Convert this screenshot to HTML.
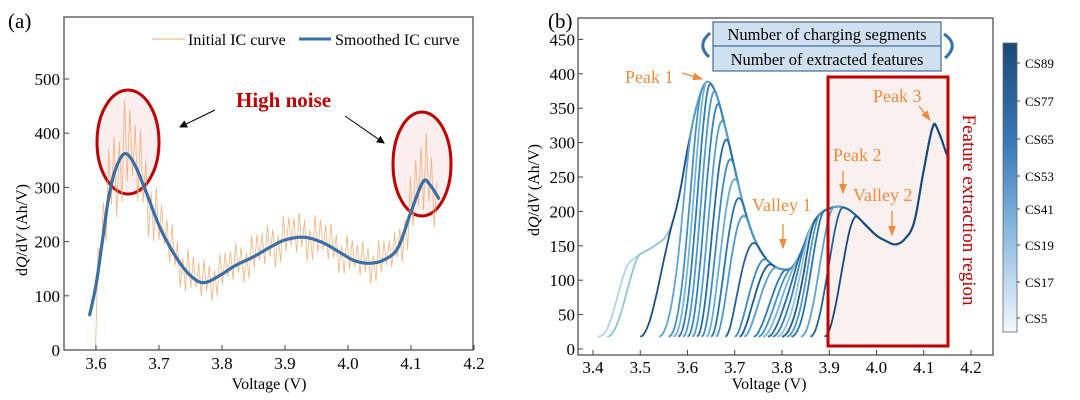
<!DOCTYPE html>
<html><head><meta charset="utf-8">
<style>
body{margin:0;background:#fff;}
svg{display:block;font-family:"Liberation Serif",serif;}
</style></head>
<body>
<svg id="fig" width="1080" height="400" viewBox="0 0 1080 400">
<defs>
<linearGradient id="cb" x1="0" y1="0" x2="0" y2="1">
<stop offset="0" stop-color="#1b4a78"/><stop offset="0.35" stop-color="#3a7ab8"/><stop offset="0.65" stop-color="#8ab8e0"/><stop offset="1" stop-color="#f4f8fd"/>
</linearGradient>
<marker id="ah" markerWidth="8" markerHeight="8" refX="7" refY="4" orient="auto"><path d="M0,0 L8,4 L0,8 z" fill="#000"/></marker>
<marker id="ao" markerWidth="8" markerHeight="8" refX="7" refY="4" orient="auto"><path d="M0,1 L8,4 L0,7 z" fill="#f08a3c"/></marker>
</defs>
<g id="pa"></g>
<g id="pb"></g>
</svg>
<script>
// ---------- Panel (a) data ----------
const smoothV=[3.59,3.6,3.61,3.62,3.63,3.645,3.66,3.68,3.7,3.72,3.74,3.76,3.775,3.8,3.82,3.85,3.88,3.9,3.93,3.96,3.99,4.01,4.035,4.06,4.08,4.1,4.12,4.13,4.145];
const smoothY=[65,120,200,280,330,362,345,290,230,185,150,128,125,140,155,172,192,203,208,198,178,165,160,168,190,255,312,305,278];
const noiseV=[3.6,3.62,3.64,3.66,3.68,3.7,3.75,3.8,3.9,3.95,4.0,4.05,4.08,4.1,4.12,4.145];
const noiseAmp=[40,90,100,95,80,55,45,40,45,45,40,40,40,70,90,60];
const noisePattern=[1,0.5,0.9,0.3,0.8,0.6,1,0.4,0.7,0.95,0.35,0.85];
const xTicksA=["3.6","3.7","3.8","3.9","4.0","4.1","4.2"];
const yTicksA=[0,100,200,300,400,500];
// ---------- Panel (b) data ----------
const envV=[3.40,3.42,3.44,3.46,3.48,3.50,3.53,3.56,3.58,3.60,3.62,3.64,3.66,3.68,3.70,3.72,3.74,3.76,3.78,3.80,3.82,3.84,3.86,3.88,3.90,3.92,3.94,3.96,3.98,4.00,4.02,4.04,4.06,4.08,4.10,4.12,4.13,4.15];
const envY=[15,60,100,118,128,138,150,170,215,290,355,388,372,322,262,205,163,137,122,116,118,140,175,196,204,207,203,192,178,165,157,152,160,185,260,325,318,280];
const cycleStart=[3.41,3.43,3.50,3.54,3.56,3.57,3.58,3.59,3.60,3.61,3.62,3.63,3.64,3.65,3.66,3.68,3.70,3.71,3.72,3.74,3.75,3.76,3.77,3.78,3.79,3.80,3.81,3.82,3.84,3.86,3.89];
const cycleShade=[0.1,0.2,0.95,0.4,0.55,0.3,0.7,0.5,0.65,0.45,0.8,0.6,0.35,0.75,0.5,0.85,0.6,0.9,0.45,0.7,0.55,0.3,0.8,0.65,0.2,0.9,0.5,0.75,0.4,0.85,1.0];
const cbLabels=["CS89","CS77","CS65","CS53","CS41","CS19","CS17","CS5"];
const cbLabelY=[63,101,139,176,209,245,282,318];
const xTicksB=["3.4","3.5","3.6","3.7","3.8","3.9","4.0","4.1","4.2"];
const yTicksB=[0,50,100,150,200,250,300,350,400,450];

const NS="http://www.w3.org/2000/svg";
function mk(parent,tag,attrs,text){const e=document.createElementNS(NS,tag);for(const k in attrs)e.setAttribute(k,attrs[k]);if(text!==undefined)e.textContent=text;parent.appendChild(e);return e;}
function interp(xs,ys,v){
  const n=xs.length;
  if(v<=xs[0])return ys[0];if(v>=xs[n-1])return ys[n-1];
  let i=1;while(v>xs[i])i++;
  const x0=xs[i-1],x1=xs[i],h=x1-x0,t=(v-x0)/h;
  const sl=k=>{const a=Math.max(0,k-1),b=Math.min(n-1,k+1);return (ys[b]-ys[a])/(xs[b]-xs[a]);};
  const m0=sl(i-1)*h,m1=sl(i)*h;
  const t2=t*t,t3=t2*t;
  return (2*t3-3*t2+1)*ys[i-1]+(t3-2*t2+t)*m0+(-2*t3+3*t2)*ys[i]+(t3-t2)*m1;
}
function pathOf(pts){return pts.map((p,i)=>(i?'L':'M')+p[0].toFixed(1)+','+p[1].toFixed(1)).join('');}

// ===== Panel A =====
const pa=document.getElementById('pa');
const xA=v=>96+(v-3.6)*630, yA=d=>350-d*0.542;
let e;
e=mk(pa,'text',{x:8,y:28,'font-size':21},'(a)');

e=mk(pa,'ellipse',{cx:128,cy:142,rx:31,ry:52,fill:'rgba(220,120,120,0.13)',stroke:'#c00000','stroke-width':3});

e=mk(pa,'ellipse',{cx:422,cy:164,rx:29,ry:52,fill:'rgba(220,120,120,0.13)',stroke:'#c00000','stroke-width':3});

const raw=[];
let idx=0;
for(let v=3.595;v<=4.1451;v+=0.0042){
  const base=v<3.6?0:interp(smoothV,smoothY,v);
  const amp=interp(noiseV,noiseAmp,v);
  const sgn=(idx%2===0)?1:-1;
  const d=v<3.6?0:Math.max(0,base+sgn*amp*noisePattern[idx%noisePattern.length]);
  raw.push([xA(v),yA(d)]);idx++;
}
e=mk(pa,'path',{d:pathOf(raw),fill:'none',stroke:'#f5a46a','stroke-width':0.8,opacity:0.85});

const sm=[];
for(let v=3.59;v<=4.1451;v+=0.002)sm.push([xA(v),yA(interp(smoothV,smoothY,v))]);
e=mk(pa,'path',{d:pathOf(sm),fill:'none',stroke:'#3b6fa8','stroke-width':3.2,'stroke-linecap':'round','stroke-linejoin':'round'});

e=mk(pa,'rect',{x:64,y:17,width:409,height:333,fill:'none',stroke:'#444','stroke-width':1.2});

xTicksA.forEach(t=>{const x=xA(parseFloat(t));
  e=mk(pa,'line',{x1:x,y1:350,x2:x,y2:345,stroke:'#444'});
  e=mk(pa,'text',{x:x,y:369,'font-size':17,'text-anchor':'middle'},t);});
yTicksA.forEach(t=>{const y=yA(t);
  e=mk(pa,'line',{x1:64,y1:y,x2:69,y2:y,stroke:'#444'});
  e=mk(pa,'text',{x:60,y:y+6,'font-size':17,'text-anchor':'end'},t);});
e=mk(pa,'text',{x:269,y:389,'font-size':16,'text-anchor':'middle'},'Voltage (V)');

e=mk(pa,'text',{transform:'translate(27,230) rotate(-90)','font-size':16,'text-anchor':'middle'});
e.innerHTML='d<tspan font-style="italic">Q</tspan>/d<tspan font-style="italic">V</tspan> (Ah/V)';

e=mk(pa,'line',{x1:152,y1:39,x2:185,y2:39,stroke:'#f5a46a','stroke-width':1});
e=mk(pa,'text',{x:188,y:45,'font-size':16},'Initial IC curve');
e=mk(pa,'line',{x1:299,y1:39,x2:331,y2:39,stroke:'#3b6fa8','stroke-width':3});
e=mk(pa,'text',{x:335,y:45,'font-size':16},'Smoothed IC curve');
e=mk(pa,'text',{x:236,y:107,'font-size':21,'font-weight':'bold',fill:'#c00000'},'High noise');

e=mk(pa,'line',{x1:215,y1:110,x2:180,y2:127,stroke:'#000','stroke-width':1,'marker-end':'url(#ah)'});
e=mk(pa,'line',{x1:345,y1:116,x2:384,y2:143,stroke:'#000','stroke-width':1,'marker-end':'url(#ah)'});

// ===== Panel B =====
const pb=document.getElementById('pb');
const xB=v=>593+(v-3.4)*472.5, yB=d=>349-d*0.688;
e=mk(pb,'text',{x:548,y:28,'font-size':21},'(b)');

e=mk(pb,'rect',{x:828,y:77,width:120,height:269,fill:'rgba(230,170,170,0.18)',stroke:'none'});

function shade(s){
  const st=[[210,227,243],[107,174,214],[49,130,189],[24,72,124]];
  const f=s*3,k=Math.min(2,Math.floor(f)),u=f-k;
  const c=st[k].map((v,j)=>Math.round(v+(st[k+1][j]-v)*u));
  return 'rgb('+c.join(',')+')';
}
cycleStart.forEach((sv,i)=>{
  const pts=[];
  for(let v=sv;v<=4.1501;v+=0.003){
    let t=Math.min(1,(v-sv)/0.07);t=t*t*(3-2*t);
    const d=18*(1-t)+interp(envV,envY,v)*t*(0.9+0.1*t);
    pts.push([xB(v),yB(d)]);
  }
  const p=mk(pb,'path',{d:pathOf(pts),fill:'none',stroke:shade(cycleShade[i]),'stroke-width':1.8});
  
  
});
e=mk(pb,'rect',{x:828,y:77,width:120,height:269,fill:'none',stroke:'#c00000','stroke-width':3});

e=mk(pb,'rect',{x:578,y:18,width:415,height:337,fill:'none',stroke:'#444','stroke-width':1.2});

xTicksB.forEach(t=>{const x=xB(parseFloat(t));
  e=mk(pb,'line',{x1:x,y1:355,x2:x,y2:350,stroke:'#444'});
  e=mk(pb,'text',{x:x,y:373,'font-size':17,'text-anchor':'middle'},t);});
yTicksB.forEach(t=>{const y=yB(t);
  e=mk(pb,'line',{x1:578,y1:y,x2:583,y2:y,stroke:'#444'});
  e=mk(pb,'text',{x:575,y:y+6,'font-size':17,'text-anchor':'end'},t);});
e=mk(pb,'text',{x:769,y:389,'font-size':16,'text-anchor':'middle'},'Voltage (V)');

e=mk(pb,'text',{transform:'translate(539,190) rotate(-90)','font-size':16,'text-anchor':'middle'});
e.innerHTML='d<tspan font-style="italic">Q</tspan>/d<tspan font-style="italic">V</tspan> (Ah/V)';

e=mk(pb,'rect',{x:713,y:22,width:228,height:24,fill:'#cfe0f1',stroke:'#4a6a9a','stroke-width':1.2});
e=mk(pb,'rect',{x:713,y:46,width:228,height:25,fill:'#cfe0f1',stroke:'#4a6a9a','stroke-width':1.2});
e=mk(pb,'text',{x:827,y:40,'font-size':16.5,'text-anchor':'middle'},'Number of charging segments');
e=mk(pb,'text',{x:827,y:65,'font-size':16.5,'text-anchor':'middle'},'Number of extracted features');
e=mk(pb,'path',{d:'M710,33 Q696,45 709,57',fill:'none',stroke:'#3b6fa8','stroke-width':3});
e=mk(pb,'path',{d:'M944,34 Q960,45 945,58',fill:'none',stroke:'#3b6fa8','stroke-width':3});
const ann=[['Peak 1',625,83,682,73,702,79],['Peak 3',873,102,919,106,930,120],['Peak 2',833,161,843,171,843,193],['Valley 2',853,201,892,211,892,235],['Valley 1',752,211,783,224,783,248]];
ann.forEach(a=>{
  const t=mk(pb,'text',{x:a[1],y:a[2],'font-size':18,fill:'#f08a3c'},a[0]);
  
  
  const l=mk(pb,'line',{x1:a[3],y1:a[4],x2:a[5],y2:a[6],stroke:'#f08a3c','stroke-width':1.3,'marker-end':'url(#ao)'});
  
  
});
e=mk(pb,'text',{transform:'translate(963,210) rotate(90)','font-size':19,fill:'#c00000','text-anchor':'middle'},'Feature extraction region');

e=mk(pb,'rect',{x:1003,y:43,width:14,height:289,fill:'url(#cb)',stroke:'#666','stroke-width':0.8});

cbLabels.forEach((l,i)=>{
  const tk=mk(pb,'line',{x1:1017,y1:cbLabelY[i],x2:1020,y2:cbLabelY[i],stroke:'#444'});
  
  
  const tx=mk(pb,'text',{x:1025,y:cbLabelY[i]+5,'font-size':13},l);
  
  
});
</script>
</body></html>
